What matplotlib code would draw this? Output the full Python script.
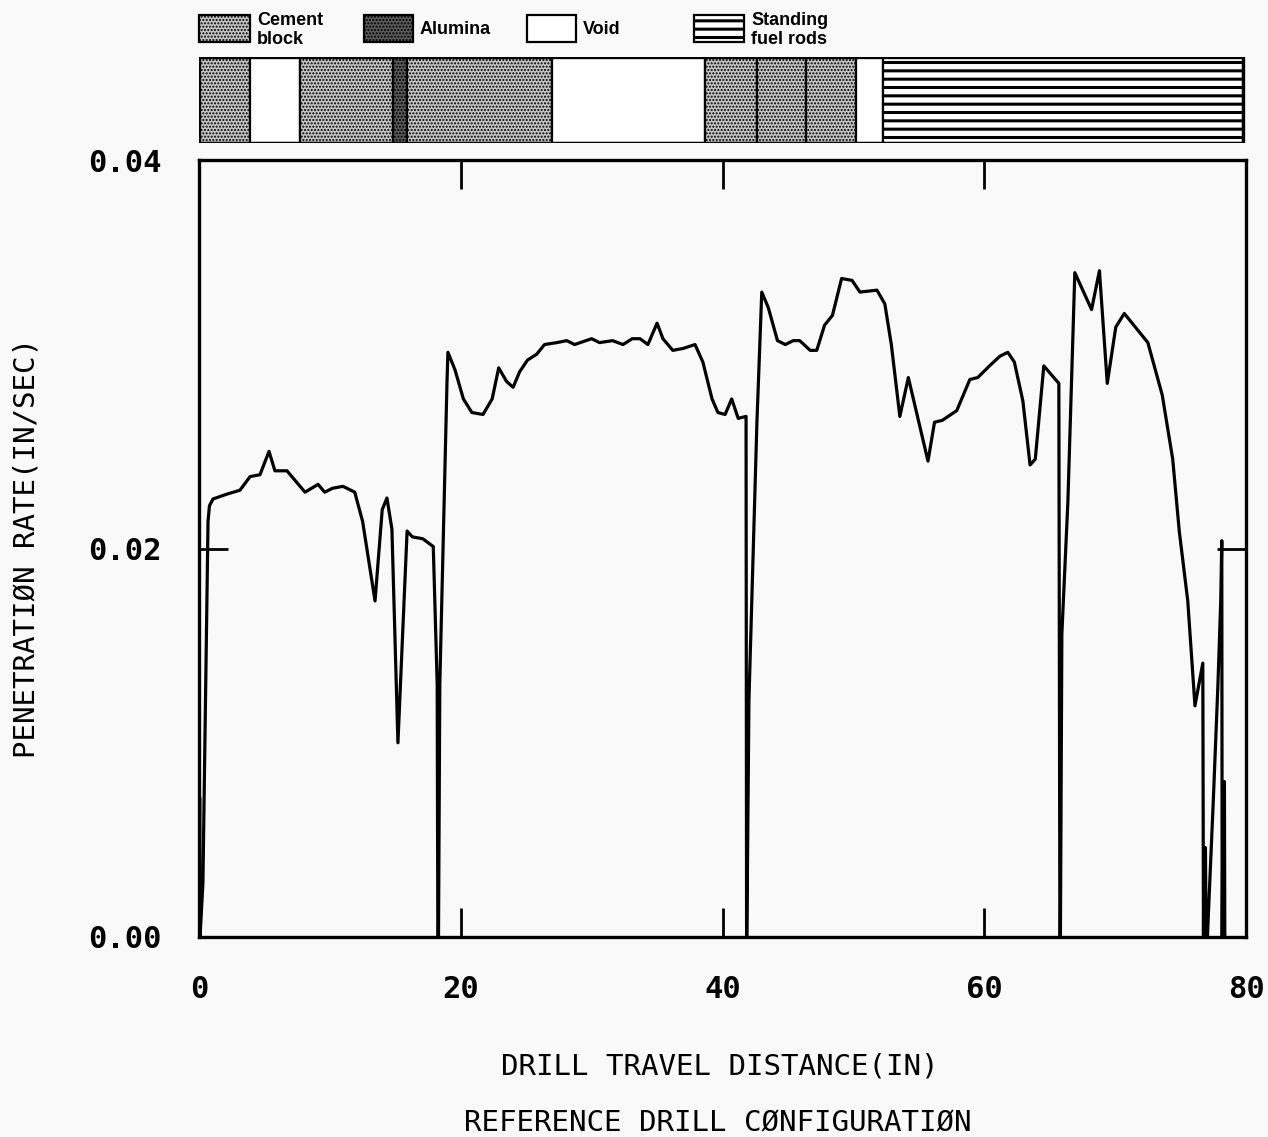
import matplotlib
matplotlib.use('Agg')
import matplotlib.pyplot as plt
from matplotlib.patches import Rectangle

# ---------------- data ----------------
distance = [0.0, 0.05, 0.08, 0.3, 0.69, 0.8, 1.07, 2.14, 3.13, 3.9,
            4.66, 5.35, 5.8, 6.72, 8.1, 9.1, 9.6, 10.2, 11.0, 11.9,
            12.5, 13.45, 14.0, 14.36, 14.74, 15.2, 15.9, 16.3, 17.1, 17.9,
            18.2, 18.25, 18.3, 18.4, 18.95, 19.02, 19.56, 20.2, 20.85, 21.7,
            22.4, 22.9, 23.5, 24.0, 24.5, 25.1, 25.8, 26.4, 27.35, 28.1,
            28.7, 30.0, 30.6, 31.6, 32.4, 33.1, 33.7, 34.3, 35.0, 35.45,
            36.2, 37.0, 37.9, 38.5, 39.2, 39.65, 40.2, 40.7, 41.2, 41.8,
            41.84, 41.86, 42.02, 42.63, 43.0, 43.5, 44.2, 44.8, 45.4, 45.9,
            46.7, 47.2, 47.8, 48.4, 49.1, 49.9, 50.5, 51.8, 52.4, 52.9,
            53.55, 54.2, 55.7, 56.2, 56.8, 57.9, 58.9, 59.5, 60.4, 61.2,
            61.8, 62.3, 62.95, 63.5, 63.9, 64.55, 65.7, 65.78, 65.82, 65.93,
            66.39, 66.92, 68.2, 68.8, 69.4, 70.05, 70.7, 72.5, 73.6, 74.4,
            74.9, 75.55, 76.1, 76.7, 76.75, 76.78, 76.9, 76.95, 77.05, 77.5,
            77.85, 78.07, 78.15, 78.18, 78.25, 78.35, 78.38]

rate = [0.0, 0.0072, 0.0, 0.0028, 0.0214, 0.0222, 0.02255, 0.0228, 0.0230, 0.0237,
        0.0238, 0.0250, 0.0240, 0.0240, 0.0229, 0.0233, 0.0229, 0.0231, 0.0232, 0.0229,
        0.0214, 0.0173, 0.0220, 0.0226, 0.0210, 0.0100, 0.0209, 0.0206, 0.0205, 0.0201,
        0.0130, 0.0, 0.0, 0.0130, 0.0286, 0.0301, 0.0292, 0.0277, 0.0270, 0.0269,
        0.0277, 0.0293, 0.0286, 0.0283, 0.0291, 0.0297, 0.0300, 0.0305, 0.0306, 0.0307,
        0.0305, 0.0308, 0.0306, 0.0307, 0.0305, 0.0308, 0.0308, 0.0305, 0.0316, 0.0308,
        0.0302, 0.0303, 0.0305, 0.0296, 0.0277, 0.0270, 0.0269, 0.0277, 0.0267, 0.0268,
        0.0, 0.0, 0.0122, 0.0265, 0.0332, 0.0324, 0.0307, 0.0305, 0.0307, 0.0307,
        0.0302, 0.0302, 0.0315, 0.0320, 0.0339, 0.0338, 0.0332, 0.0333, 0.0326, 0.0305,
        0.0268, 0.0288, 0.0245, 0.0265, 0.0266, 0.0271, 0.0287, 0.0288, 0.0294, 0.0299,
        0.0301, 0.0296, 0.0276, 0.0243, 0.0246, 0.0294, 0.0285, 0.0, 0.0, 0.0156,
        0.0224, 0.0342, 0.0323, 0.0343, 0.0285, 0.0314, 0.0321, 0.0306, 0.0279, 0.0246,
        0.0209, 0.0173, 0.0119, 0.0141, 0.0, 0.0046, 0.0046, 0.0, 0.0, 0.0070,
        0.0129, 0.0173, 0.0204, 0.0, 0.0080, 0.0080, 0.0]

layer_start = [0.0, 3.9, 7.7, 14.8, 15.9, 27.0, 38.7, 42.6, 46.4, 50.2, 52.3]
layer_end = [3.9, 7.7, 14.8, 15.9, 27.0, 38.7, 42.6, 46.4, 50.2, 52.3, 79.8]
layer_material = ['cement', 'void', 'cement', 'alumina', 'cement', 'void',
                  'cement', 'cement', 'cement', 'void', 'rods']

x_ticks = [0, 20, 40, 60, 80]
x_ticklabels = ['0', '20', '40', '60', '80']
y_ticks = [0.0, 0.02, 0.04]
y_ticklabels = ['0.00', '0.02', '0.04']

legend_keys = ['cement', 'alumina', 'void', 'rods']
legend_labels = ['Cement\nblock', 'Alumina', 'Void', 'Standing\nfuel rods']

# ---------------- styles ----------------
styles = {
    'cement': dict(facecolor='#c4c4c4', hatch='.....', lw=1.6),
    'alumina': dict(facecolor='#5a5a5a', hatch='.....', lw=1.6),
    'void': dict(facecolor='white', hatch=None, lw=1.6),
    'rods': dict(facecolor='white', hatch='--', lw=1.6),
}

W, H = 1268, 1137
BG = '#f9f9f9'
MONO = 'DejaVu Sans Mono'
fig = plt.figure(figsize=(W / 100, H / 100), dpi=100)
fig.patch.set_facecolor(BG)


def fx(px):
    return px / W


def fy(py):
    return 1 - py / H


def make_patch(ax, x, y, w, h, mat):
    st = styles[mat]
    hlw = 2.2 if mat == 'rods' else 1.0
    with plt.rc_context({'hatch.linewidth': hlw}):
        r = Rectangle((x, y), w, h, facecolor=st['facecolor'], edgecolor='black',
                      hatch=st['hatch'], lw=st['lw'])
        if hasattr(r, 'set_hatch_linewidth'):
            try:
                r.set_hatch_linewidth(hlw)
            except Exception:
                pass
    ax.add_patch(r)
    return r


# ---------------- main axes ----------------
ax = fig.add_axes([fx(199), fy(937), fx(1246) - fx(199), fy(160) - fy(937)])
ax.set_facecolor(BG)
ax.plot(distance, rate, color='black', lw=2.3)
ax.set_xlim(0, 80)
ax.set_ylim(0, 0.04)
ax.set_xticks(x_ticks)
ax.set_xticklabels(x_ticklabels)
ax.set_yticks(y_ticks)
ax.set_yticklabels(y_ticklabels)
ax.tick_params(direction='in', length=21, width=2.0, top=True, right=True,
               labelsize=22, color='black')
ax.tick_params(axis='x', pad=27)
ax.tick_params(axis='y', pad=27)
for lab in ax.get_xticklabels() + ax.get_yticklabels():
    lab.set_fontfamily(MONO)
    lab.set_fontweight('bold')
for sp in ax.spines.values():
    sp.set_linewidth(2.4)

fig.text(fx(720), fy(1067), 'DRILL TRAVEL DISTANCE(IN)', ha='center', va='center',
         fontsize=21, family=MONO)
fig.text(fx(718), fy(1123), 'REFERENCE DRILL CØNFIGURATIØN', ha='center', va='center',
         fontsize=21, family=MONO)
fig.text(fx(27), fy(548), 'PENETRATIØN RATE(IN/SEC)', ha='center', va='center',
         rotation=90, fontsize=21, family=MONO)

# ---------------- stratigraphy bar ----------------
axs = fig.add_axes([fx(199), fy(143), fx(1246) - fx(199), fy(57) - fy(143)])
axs.set_xlim(0, 80)
axs.set_ylim(0, 1)
axs.axis('off')
for s, e, m in zip(layer_start, layer_end, layer_material):
    make_patch(axs, s, 0, e - s, 1, m)
axs.add_patch(Rectangle((layer_start[0], 0), layer_end[-1] - layer_start[0], 1,
                        fill=False, edgecolor='black', lw=2.4))

# ---------------- legend ----------------
axl = fig.add_axes([0, fy(52), 1, fy(0) - fy(52)])
axl.set_xlim(0, W)
axl.set_ylim(52, 0)
axl.axis('off')
patch_x = [199, 364, 527, 694]
patch_w = [51, 49, 49, 50]
text_x = [257, 420, 583, 751]
for key, lab, px, pw, tx in zip(legend_keys, legend_labels, patch_x, patch_w, text_x):
    make_patch(axl, px, 15, pw, 27, key)
    axl.text(tx, 30, lab, ha='left', va='center', fontsize=13, fontweight='bold',
             family='Liberation Sans', linespacing=1.15)

fig.savefig('out.png', dpi=100, facecolor=BG)
